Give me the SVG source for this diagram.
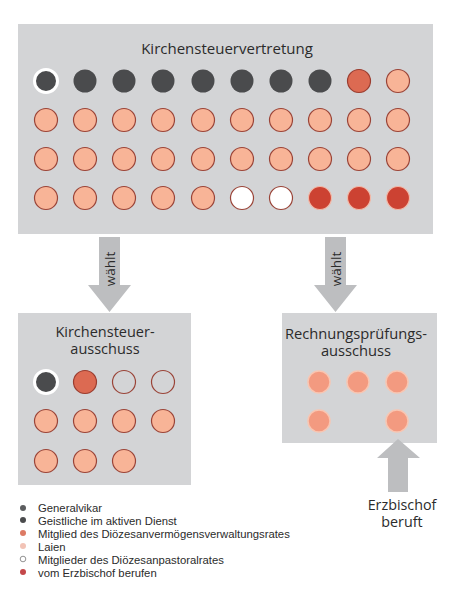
<svg xmlns="http://www.w3.org/2000/svg" width="461" height="600" viewBox="0 0 461 600">
<style>
.box{fill:#d3d4d6}
.t{font-family:"Open Sans","Liberation Sans",sans-serif;fill:#2b2b2b;text-anchor:middle}
.lg{font-family:"Liberation Sans",Arial,sans-serif;fill:#2b2b2b;font-size:11.3px}
.gv{fill:#4a4b4d;stroke:#ffffff;stroke-width:3}
.gd{fill:#4a4b4d}
.mv{fill:#dc6a52;stroke:#9a3d30;stroke-width:1.2}
.la{fill:#f8b497;stroke:#9a4438;stroke-width:1.2}
.pr{fill:#ffffff;stroke:#9a4438;stroke-width:1.2}
.pg{fill:#d3d4d6;stroke:#9a4438;stroke-width:1.2}
.eb{fill:#cc4232;stroke:#f2b9a8;stroke-width:1.2}
.rp{fill:#f39a80;stroke:#f8c6b2;stroke-width:1.5}
.arr{fill:#bdbec0}
</style>
<g id="kirchensteuervertretung">
<rect class="box" x="18" y="24" width="415" height="210"/>
<text class="t" x="227" y="54" font-size="15">Kirchensteuervertretung</text>
<circle class="gv" cx="46" cy="81" r="11.5"/>
<circle class="gd" cx="85" cy="81" r="11.5"/>
<circle class="gd" cx="124" cy="81" r="11.5"/>
<circle class="gd" cx="163" cy="81" r="11.5"/>
<circle class="gd" cx="203" cy="81" r="11.5"/>
<circle class="gd" cx="242" cy="81" r="11.5"/>
<circle class="gd" cx="281" cy="81" r="11.5"/>
<circle class="gd" cx="320" cy="81" r="11.5"/>
<circle class="mv" cx="359" cy="81" r="11.5"/>
<circle class="la" cx="398" cy="81" r="11.5"/>
<circle class="la" cx="46" cy="120" r="11.5"/>
<circle class="la" cx="85" cy="120" r="11.5"/>
<circle class="la" cx="124" cy="120" r="11.5"/>
<circle class="la" cx="163" cy="120" r="11.5"/>
<circle class="la" cx="203" cy="120" r="11.5"/>
<circle class="la" cx="242" cy="120" r="11.5"/>
<circle class="la" cx="281" cy="120" r="11.5"/>
<circle class="la" cx="320" cy="120" r="11.5"/>
<circle class="la" cx="359" cy="120" r="11.5"/>
<circle class="la" cx="398" cy="120" r="11.5"/>
<circle class="la" cx="46" cy="159" r="11.5"/>
<circle class="la" cx="85" cy="159" r="11.5"/>
<circle class="la" cx="124" cy="159" r="11.5"/>
<circle class="la" cx="163" cy="159" r="11.5"/>
<circle class="la" cx="203" cy="159" r="11.5"/>
<circle class="la" cx="242" cy="159" r="11.5"/>
<circle class="la" cx="281" cy="159" r="11.5"/>
<circle class="la" cx="320" cy="159" r="11.5"/>
<circle class="la" cx="359" cy="159" r="11.5"/>
<circle class="la" cx="398" cy="159" r="11.5"/>
<circle class="la" cx="46" cy="198" r="11.5"/>
<circle class="la" cx="85" cy="198" r="11.5"/>
<circle class="la" cx="124" cy="198" r="11.5"/>
<circle class="la" cx="163" cy="198" r="11.5"/>
<circle class="la" cx="203" cy="198" r="11.5"/>
<circle class="pr" cx="242" cy="198" r="11.5"/>
<circle class="pr" cx="281" cy="198" r="11.5"/>
<circle class="eb" cx="320" cy="198" r="11.5"/>
<circle class="eb" cx="359" cy="198" r="11.5"/>
<circle class="eb" cx="398" cy="198" r="11.5"/>
</g>
<g id="kirchensteuerausschuss">
<rect class="box" x="18" y="313" width="173" height="172"/>
<text class="t" x="105" y="337" font-size="14.5">Kirchensteuer-</text>
<text class="t" x="105" y="354" font-size="14.5">ausschuss</text>
<circle class="gv" cx="46" cy="382" r="11.5"/>
<circle class="mv" cx="85" cy="382" r="11.5"/>
<circle class="pg" cx="124" cy="382" r="11.5"/>
<circle class="pg" cx="163" cy="382" r="11.5"/>
<circle class="la" cx="46" cy="421" r="11.5"/>
<circle class="la" cx="85" cy="421" r="11.5"/>
<circle class="la" cx="124" cy="421" r="11.5"/>
<circle class="la" cx="163" cy="421" r="11.5"/>
<circle class="la" cx="46" cy="461" r="11.5"/>
<circle class="la" cx="85" cy="461" r="11.5"/>
<circle class="la" cx="124" cy="461" r="11.5"/>
</g>
<g id="rechnungspruefungsausschuss">
<rect class="box" x="282" y="313" width="155" height="130"/>
<text class="t" x="356" y="339" font-size="14.7">Rechnungsprüfungs-</text>
<text class="t" x="356" y="356" font-size="14.7">ausschuss</text>
<circle class="rp" cx="319" cy="382" r="11"/>
<circle class="rp" cx="358" cy="382" r="11"/>
<circle class="rp" cx="397" cy="382" r="11"/>
<circle class="rp" cx="319" cy="421" r="11"/>
<circle class="rp" cx="397" cy="421" r="11"/>
</g>
<g id="connectors">
<polygon class="arr" points="99,237 120,237 120,285 131,285 109.5,312 88,285 99,285"/>
<text class="t" font-size="13.5" transform="translate(114.5,269) rotate(-90)" fill="#3a3a3a">wählt</text>
<polygon class="arr" points="325,237 346,237 346,285 357,285 335.5,312 314,285 325,285"/>
<text class="t" font-size="13.5" transform="translate(340.5,269) rotate(-90)" fill="#3a3a3a">wählt</text>
<polygon class="arr" points="388,492 408,492 408,458 420,458 398,439 377,458 388,458"/>
</g>
<g id="erzbischof-label">
<text class="t" x="402" y="510" font-size="14.3">Erzbischof</text>
<text class="t" x="402" y="527" font-size="14.3">beruft</text>
</g>
<g id="legend">
<circle cx="23" cy="508" r="3" fill="#5c5d5f"/>
<text class="lg" x="38" y="512">Generalvikar</text>
<circle cx="23" cy="520" r="3" fill="#4a4b4d"/>
<text class="lg" x="38" y="524.5">Geistliche im aktiven Dienst</text>
<circle cx="23" cy="533" r="3" fill="#dc7a64"/>
<text class="lg" x="38" y="537.5">Mitglied des Diözesanvermögensverwaltungsrates</text>
<circle cx="23" cy="546" r="3" fill="#f2c3b6"/>
<text class="lg" x="38" y="550.5">Laien</text>
<circle cx="23" cy="559" r="2.8" fill="#ffffff" stroke="#777" stroke-width="0.8"/>
<text class="lg" x="38" y="563.5">Mitglieder des Diözesanpastoralrates</text>
<circle cx="23" cy="572" r="3" fill="#c4484a"/>
<text class="lg" x="38" y="576.5">vom Erzbischof berufen</text>
</g>
</svg>
